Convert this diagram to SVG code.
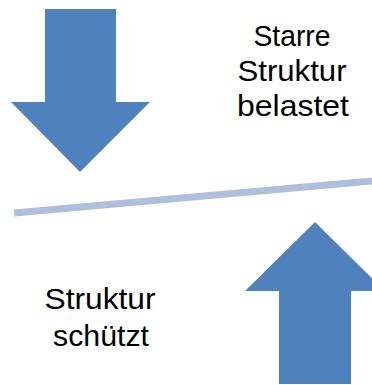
<svg xmlns="http://www.w3.org/2000/svg" width="372" height="385" viewBox="0 0 372 385">
  <style>
    .arrow { fill: #4f81bd; }
    .beam { stroke: #adbfdc; stroke-width: 7; fill: none; }
    .label { font-family: "Liberation Sans", Arial, sans-serif; font-size: 30px; fill: #000; text-anchor: middle; }
  </style>
  <rect width="372" height="385" fill="#ffffff"/>
  <g id="connectors">
    <line class="beam" x1="14" y1="213" x2="372" y2="181"/>
  </g>
  <g id="load-arrow">
    <polygon class="arrow" points="45,9 116,9 116,102 150,102 80,172 11,102 45,102"/>
  </g>
  <g id="support-arrow">
    <polygon class="arrow" points="315,222 385,291 351,291 351,384 279,384 279,291 245,291"/>
  </g>
  <g id="label-loaded">
    <text class="label" x="292" y="46" textLength="77" lengthAdjust="spacingAndGlyphs">Starre</text>
    <text class="label" x="292" y="81" textLength="109" lengthAdjust="spacingAndGlyphs">Struktur</text>
    <text class="label" x="293" y="116" textLength="112" lengthAdjust="spacingAndGlyphs">belastet</text>
  </g>
  <g id="label-protects">
    <text class="label" x="100" y="309" textLength="111" lengthAdjust="spacingAndGlyphs">Struktur</text>
    <text class="label" x="101" y="346" textLength="96" lengthAdjust="spacingAndGlyphs">schützt</text>
  </g>
</svg>
